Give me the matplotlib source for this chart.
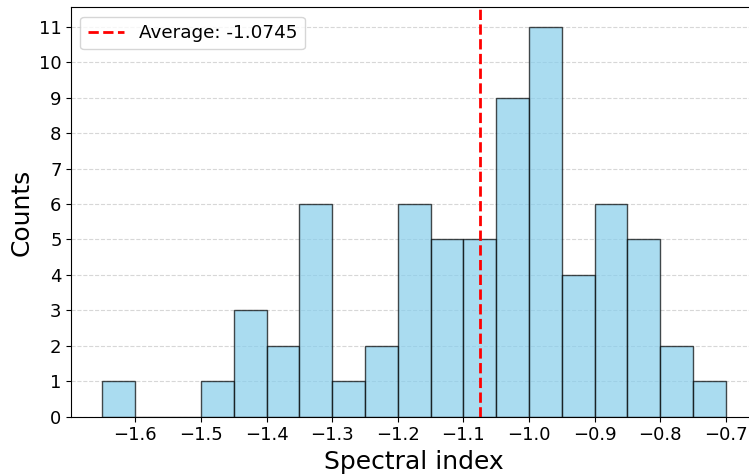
import numpy as np
import matplotlib
matplotlib.use("Agg")
import matplotlib.pyplot as plt
from matplotlib.ticker import MultipleLocator

# Histogram of spectral indices (bin width 0.05)
bin_edges = np.round(np.arange(-1.65, -0.70 + 1e-9, 0.05), 2)
counts = [1, 0, 0, 1, 3, 2, 6, 1, 2, 6, 5, 5, 9, 11, 4, 6, 5, 2, 1]
average = -1.0745

fig = plt.figure(figsize=(7.49, 4.75), dpi=100)
W, H = 749, 475
left, right, top, bottom = 71.3, 757.0, 7.5, 416.5
ax = fig.add_axes([left / W, 1 - bottom / H, (right - left) / W, (bottom - top) / H])

centers = (bin_edges[:-1] + bin_edges[1:]) / 2
ax.hist(centers, bins=bin_edges, weights=counts, color="skyblue",
        edgecolor="black", alpha=0.7)
ax.axvline(average, color="red", linestyle="--", linewidth=2,
           label=f"Average: {average}")

ax.set_xlabel("Spectral index", fontsize=18)
ax.set_ylabel("Counts", fontsize=18)
ax.tick_params(labelsize=13)
ax.xaxis.set_major_locator(MultipleLocator(0.1))
ax.set_yticks(range(0, 12))
ax.grid(axis="y", linestyle="--", alpha=0.5)
ax.set_axisbelow(True)
ax.legend(fontsize=13.2, loc="upper left")

fig.savefig("out.png", dpi=100)
